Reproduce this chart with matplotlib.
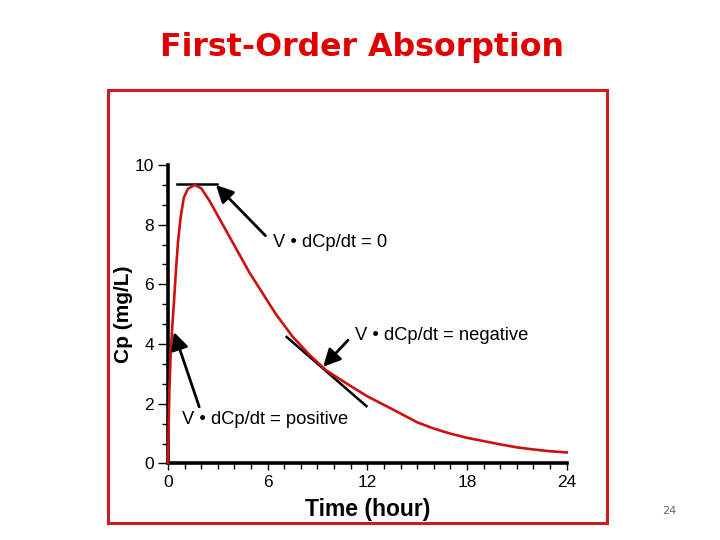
import matplotlib
matplotlib.use('Agg')
import matplotlib.pyplot as plt
from matplotlib.patches import Rectangle
from matplotlib.ticker import MultipleLocator

# Plasma concentration
time_h = [0, 0.08, 0.16, 0.26, 0.36, 0.46, 0.6, 0.75, 0.95, 1.2, 1.6, 2.0, 2.5,
          3.3, 4.1, 4.9, 5.7, 6.5, 7.5, 8.5, 9.5, 10.75, 12, 13.5, 15, 16, 17,
          18, 19, 20, 21, 22, 23, 24]
cp = [0, 2.4, 3.6, 4.6, 5.4, 6.3, 7.4, 8.2, 8.9, 9.2, 9.33, 9.22, 8.8,
      8.0, 7.2, 6.4, 5.7, 5.0, 4.25, 3.65, 3.13, 2.68, 2.25, 1.82, 1.38, 1.17, 1.0,
      0.86, 0.75, 0.64, 0.54, 0.47, 0.41, 0.37]

# tangent lines (t, Cp)
peak_tangent_t = [0.56, 2.93]
peak_tangent_cp = [9.36, 9.36]
neg_tangent_t = [7.14, 11.95]
neg_tangent_cp = [4.24, 1.92]

x_ticks = [0, 6, 12, 18, 24]
y_ticks = [0, 2, 4, 6, 8, 10]

fig = plt.figure(figsize=(7.2, 5.4), dpi=100)
ax = fig.add_axes([0.2333, 0.1417, 0.5537, 0.5528])

# red frame round the picture
fig.patches.append(Rectangle((0.15, 0.0315), 0.693, 0.802, transform=fig.transFigure,
                             fill=False, edgecolor='#cc1c1c', linewidth=2.2))

fig.text(0.503, 0.912, 'First-Order Absorption', color='#e00000', fontsize=22.8,
         fontweight='bold', family='DejaVu Sans', ha='center', va='center')
fig.text(0.93, 0.053, '24', color='#666666', fontsize=8, ha='center', va='center')

ax.plot(time_h, cp, color='#cc1111', linewidth=1.9, clip_on=False, zorder=3)
ax.plot(peak_tangent_t, peak_tangent_cp, color='black', linewidth=1.8, clip_on=False)
ax.plot(neg_tangent_t, neg_tangent_cp, color='black', linewidth=1.8, clip_on=False)

arrow = dict(arrowstyle='-|>,head_length=0.8,head_width=0.4', mutation_scale=13,
             color='black', lw=2, shrinkA=0, shrinkB=0)
txt = dict(fontsize=13.2, family='Liberation Sans', va='center', ha='left')

ax.annotate('', xy=(2.89, 9.33), xytext=(5.87, 7.63), arrowprops=arrow)
ax.text(6.33, 7.4, 'V \u2022 dCp/dt = 0', **txt)

ax.annotate('', xy=(9.34, 3.24), xytext=(10.84, 4.13), arrowprops=arrow)
ax.text(11.24, 4.3, 'V \u2022 dCp/dt = negative', **txt)

ax.annotate('', xy=(0.36, 4.4), xytext=(1.88, 1.9), arrowprops=arrow)
ax.text(0.82, 1.47, 'V \u2022 dCp/dt = positive', **txt)

ax.set_xlim(0, 24)
ax.set_ylim(0, 10)
ax.set_xticks(x_ticks)
ax.set_yticks(y_ticks)
ax.xaxis.set_minor_locator(MultipleLocator(1))
ax.yaxis.set_minor_locator(MultipleLocator(2 / 3))

for s in ['top', 'right']:
    ax.spines[s].set_visible(False)
for s in ['left', 'bottom']:
    ax.spines[s].set_linewidth(2.6)

ax.tick_params(which='major', length=7, width=1, labelsize=12.5, pad=3)
ax.tick_params(axis='x', which='major', length=5)
ax.tick_params(which='minor', length=4, width=1)
for lab in ax.get_xticklabels() + ax.get_yticklabels():
    lab.set_family('Liberation Sans')

ax.set_xlabel('Time (hour)', fontsize=16.5, fontweight='bold', family='Liberation Sans', labelpad=6)
ax.set_ylabel('Cp (mg/L)', fontsize=15, fontweight='bold', family='Liberation Sans', labelpad=1)

fig.savefig('out.png', dpi=100)
